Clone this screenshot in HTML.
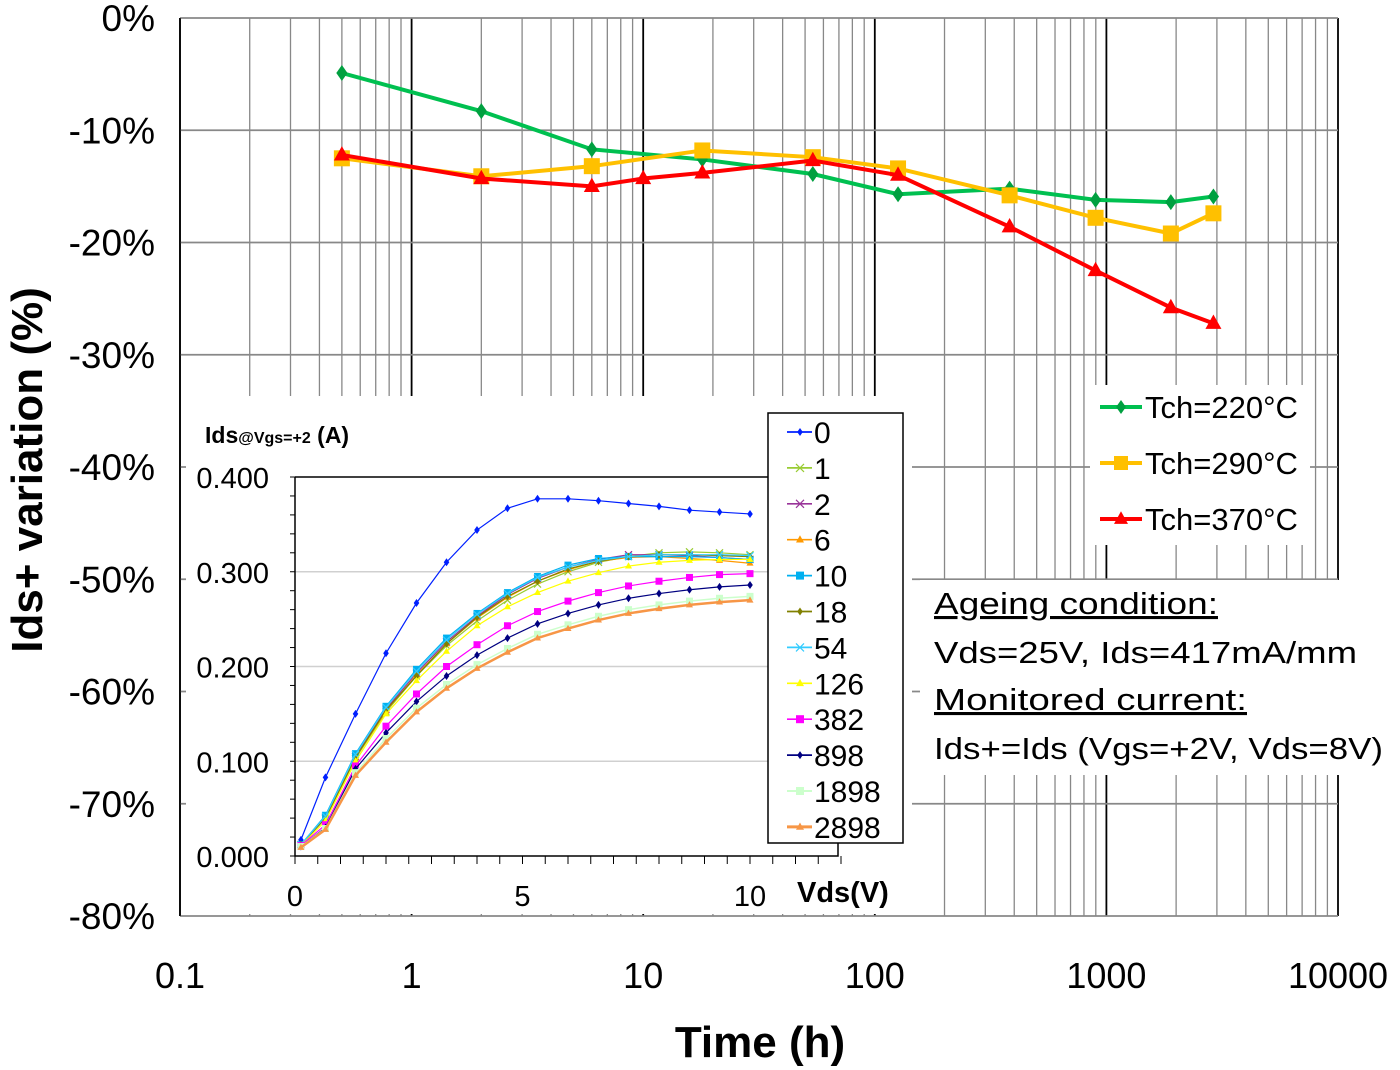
<!DOCTYPE html>
<html><head><meta charset="utf-8"><style>
html,body{margin:0;padding:0;background:#fff}
svg{display:block;font-family:"Liberation Sans",sans-serif}
</style></head><body>
<svg id="c" width="1400" height="1070" viewBox="0 0 1400 1070">
<g id="grid"></g>
<g id="series"></g>
<g id="axes"></g>
<g id="inset"></g>
<g id="legend"></g>
<g id="notes">
<rect x="920" y="580" width="472" height="195" fill="#fff"/>
<text x="934" y="614" font-size="31" textLength="284" lengthAdjust="spacingAndGlyphs" text-decoration="underline">Ageing condition:</text>
<text x="934" y="663" font-size="31" textLength="423" lengthAdjust="spacingAndGlyphs">Vds=25V, Ids=417mA/mm</text>
<text x="934" y="710" font-size="31" textLength="313" lengthAdjust="spacingAndGlyphs" text-decoration="underline">Monitored current:</text>
<text x="934" y="759" font-size="31" textLength="449" lengthAdjust="spacingAndGlyphs">Ids+=Ids (Vgs=+2V, Vds=8V)</text>
</g>
<text x="760" y="1057" font-size="44" font-weight="bold" text-anchor="middle">Time (h)</text>
<text transform="translate(42,470) rotate(-90)" font-size="44" font-weight="bold" text-anchor="middle">Ids+ variation (%)</text>
</svg>
<script>
const NS="http://www.w3.org/2000/svg";
function mk(p,t,a){const e=document.createElementNS(NS,t);for(const k in a)e.setAttribute(k,a[k]);p.appendChild(e);return e;}
// main chart data
const times=[0.5,2,6,10,18,54,126,382,898,1898,2898];
const t220=[-4.9,-8.3,-11.7,null,-12.6,-13.9,-15.7,-15.2,-16.2,-16.4,-15.9];
const t290=[-12.5,-14.1,-13.2,null,-11.8,-12.4,-13.4,-15.8,-17.8,-19.2,-17.4];
const t370=[-12.2,-14.3,-15.0,-14.3,-13.8,-12.7,-14.0,-18.6,-22.5,-25.8,-27.2];
const yTicks=[0,-10,-20,-30,-40,-50,-60,-70,-80];
const xTicks=[0.1,1,10,100,1000,10000];
const X0=180,X1=1338,Y0=18,Y1=916;
const xs=v=>X0+(Math.log10(v)+1)/5*(X1-X0);
const ys=v=>Y0+(-v)/80*(Y1-Y0);
const grid=document.getElementById('grid'),axes=document.getElementById('axes');
for(let d=-1;d<4;d++)for(let m=1;m<10;m++){const v=m*Math.pow(10,d);const x=xs(v);
 const l=mk(grid,'line',{x1:x,x2:x,y1:Y0,y2:Y1,stroke:m==1?'#000':'#888','stroke-width':m==1?1.8:1.3});
 }
mk(grid,'line',{x1:X1,x2:X1,y1:Y0,y2:Y1,stroke:'#000','stroke-width':1.8});
yTicks.forEach(v=>{const y=ys(v);const l=mk(grid,'line',{x1:X0,x2:X1,y1:y,y2:y,stroke:'#888','stroke-width':1.8});
 
 const t=mk(axes,'text',{x:155,y:y+13,'font-size':37,'text-anchor':'end'});t.textContent=v+'%';
 });
xTicks.forEach(v=>{const t=mk(axes,'text',{x:xs(v),y:988,'font-size':36,'text-anchor':'middle'});t.textContent=String(v);
 });
mk(axes,'line',{x1:X0,x2:X0,y1:Y0,y2:Y1,stroke:'#000','stroke-width':1.5});
const ser=document.getElementById('series');
function marker(g,shape,x,y,c,s){
 if(shape=='d')return mk(g,'polygon',{points:`${x},${y-s} ${x+s*0.7},${y} ${x},${y+s} ${x-s*0.7},${y}`,fill:c});
 if(shape=='s')return mk(g,'rect',{x:x-s,y:y-s,width:2*s,height:2*s,fill:c});
 if(shape=='t')return mk(g,'polygon',{points:`${x},${y-s*1.1} ${x+s},${y+s*0.7} ${x-s},${y+s*0.7}`,fill:c});
 if(shape=='x'){return mk(g,'path',{d:`M${x-s} ${y-s}L${x+s} ${y+s}M${x-s} ${y+s}L${x+s} ${y-s}`,stroke:c,'stroke-width':1.2});}
 return mk(g,'circle',{cx:x,cy:y,r:s,fill:c});
}
[[t220,'#00c050','#00a040','d','series-tch-220'],[t290,'#ffc000','#ffc000','s','series-tch-290'],[t370,'#ff0000','#ff0000','t','series-tch-370']].forEach(([arr,c,mc,sh,nm])=>{
 const g=mk(ser,'g',{});
 const pts=[];arr.forEach((v,i)=>{if(v!==null)pts.push([xs(times[i]),ys(v)]);});
 mk(g,'polyline',{points:pts.map(p=>p.join(',')).join(' '),fill:'none',stroke:c,'stroke-width':4});
 pts.forEach(p=>{const m=marker(g,sh,p[0],p[1],mc,8);});
});
// legend
const lg=document.getElementById('legend');
mk(lg,'rect',{x:1090,y:385,width:220,height:160,fill:'#fff'});
[['Tch=220°C','#00c050','#00a040','d',407],['Tch=290°C','#ffc000','#ffc000','s',463],['Tch=370°C','#ff0000','#ff0000','t',519]].forEach(([lab,c,mc,sh,y])=>{
 const g=mk(lg,'g',{});
 mk(g,'line',{x1:1100,x2:1142,y1:y,y2:y,stroke:c,'stroke-width':4});marker(g,sh,1121,y,mc,7);
 const t=mk(g,'text',{x:1145,y:y+11,'font-size':31});t.textContent=lab;});
// inset data
const vds=[0.13,0.67,1.33,2,2.67,3.33,4,4.67,5.33,6,6.67,7.33,8,8.67,9.33,10];
const i0=[0.017,0.083,0.15,0.214,0.267,0.31,0.344,0.367,0.377,0.377,0.375,0.372,0.369,0.365,0.363,0.361];
const i1=[0.012,0.04,0.103,0.152,0.19,0.222,0.248,0.27,0.287,0.3,0.31,0.316,0.32,0.321,0.32,0.318];
const i2=[0.012,0.04,0.105,0.155,0.193,0.226,0.253,0.276,0.293,0.305,0.313,0.318,0.318,0.317,0.315,0.313];
const i6=[0.012,0.04,0.104,0.153,0.191,0.224,0.251,0.273,0.29,0.302,0.311,0.315,0.316,0.314,0.312,0.309];
const i10=[0.012,0.043,0.108,0.158,0.197,0.23,0.256,0.278,0.295,0.307,0.314,0.316,0.316,0.316,0.315,0.313];
const i18=[0.012,0.04,0.104,0.154,0.19,0.224,0.252,0.274,0.29,0.303,0.311,0.316,0.318,0.318,0.317,0.316];
const i54=[0.012,0.042,0.107,0.157,0.195,0.228,0.255,0.277,0.294,0.305,0.312,0.316,0.318,0.318,0.318,0.317];
const i126=[0.011,0.037,0.1,0.15,0.185,0.216,0.243,0.263,0.278,0.29,0.299,0.306,0.31,0.312,0.313,0.313];
const i382=[0.011,0.033,0.095,0.137,0.171,0.2,0.223,0.243,0.258,0.269,0.278,0.285,0.29,0.294,0.297,0.298];
const i898=[0.01,0.03,0.092,0.13,0.163,0.19,0.212,0.23,0.245,0.256,0.265,0.272,0.277,0.281,0.284,0.286];
const i1898=[0.01,0.029,0.088,0.124,0.156,0.181,0.202,0.219,0.234,0.244,0.253,0.26,0.265,0.269,0.272,0.274];
const i2898=[0.009,0.028,0.085,0.12,0.152,0.177,0.198,0.215,0.23,0.24,0.249,0.256,0.261,0.265,0.268,0.27];
const insetLabels=['0','1','2','6','10','18','54','126','382','898','1898','2898'];
const insetYTicks=[0,0.1,0.2,0.3,0.4];
const insetXTicks=[0,5,10];
const IX0=295,IX10=750,IY0=856,IY4=477;
const ix=v=>IX0+v/10*(IX10-IX0);
const iy=v=>IY0-v/0.4*(IY0-IY4);
const ins=document.getElementById('inset');
mk(ins,'rect',{x:186,y:396,width:726,height:518,fill:'#fff'});
insetYTicks.forEach(v=>{const y=iy(v);
 if(v>0&&v<0.4){const l=mk(ins,'line',{x1:IX0,x2:838,y1:y,y2:y,stroke:'#d0d0d0','stroke-width':1.5});}
 const t=mk(ins,'text',{x:269,y:y+11,'font-size':29,'text-anchor':'end'});t.textContent=v.toFixed(3);
 });
for(let v=0;v<=0.4001;v+=0.02){mk(ins,'line',{x1:IX0-5,x2:IX0,y1:iy(v),y2:iy(v),stroke:'#000'});}
for(let v=0;v<=12.01;v+=0.5){mk(ins,'line',{x1:ix(v),x2:ix(v),y1:IY0,y2:IY0+8,stroke:'#000'});}
insetXTicks.forEach(v=>{const t=mk(ins,'text',{x:ix(v),y:906,'font-size':29,'text-anchor':'middle'});t.textContent=v;
 });
mk(ins,'polyline',{points:`${IX0},${IY4} 838,${IY4} 838,${IY0} ${IX0},${IY0} ${IX0},${IY4}`,fill:'none',stroke:'#000','stroke-width':1.5});
const it=mk(ins,'text',{x:205,y:443,'font-size':23,'font-weight':'bold'});
it.innerHTML='Ids<tspan font-size="16">@Vgs=+2</tspan> (A)';

const vt=mk(ins,'text',{x:797,y:902,'font-size':29,'font-weight':'bold'});vt.textContent='Vds(V)';

const isets=[[i0,'#0020ff','d',1.2],[i1,'#99cc33','x',1.2],[i2,'#993399','x',1.2],[i6,'#ff9900','t',1.2],[i10,'#00b0f0','s',1.2],[i18,'#808000','d',1.2],[i54,'#33ccff','x',1.2],[i126,'#ffff00','t',1.2],[i382,'#ff00ff','s',1.2],[i898,'#000080','d',1.2],[i1898,'#ccffcc','s',1.5],[i2898,'#f79646','t',2.5]];
isets.forEach(([arr,c,sh,w],k)=>{const g=mk(ins,'g',{});
 mk(g,'polyline',{points:vds.map((v,i)=>ix(v)+','+iy(arr[i])).join(' '),fill:'none',stroke:c,'stroke-width':w});
 vds.forEach((v,i)=>{marker(g,sh,ix(v),iy(arr[i]),c,sh=='d'?4:3.5);});});
mk(ins,'rect',{x:768,y:413,width:135,height:430,fill:'#fff',stroke:'#000','stroke-width':1.5});
insetLabels.forEach((lab,k)=>{const y=432+k*35.9;const [arr,c,sh,w]=isets[k];
 const g=mk(ins,'g',{});
 mk(g,'line',{x1:787,x2:812,y1:y,y2:y,stroke:c,'stroke-width':w+0.5});marker(g,sh,800,y,c,4);
 const t=mk(g,'text',{x:814,y:y+11,'font-size':30});t.textContent=lab;});
</script>
</body></html>
